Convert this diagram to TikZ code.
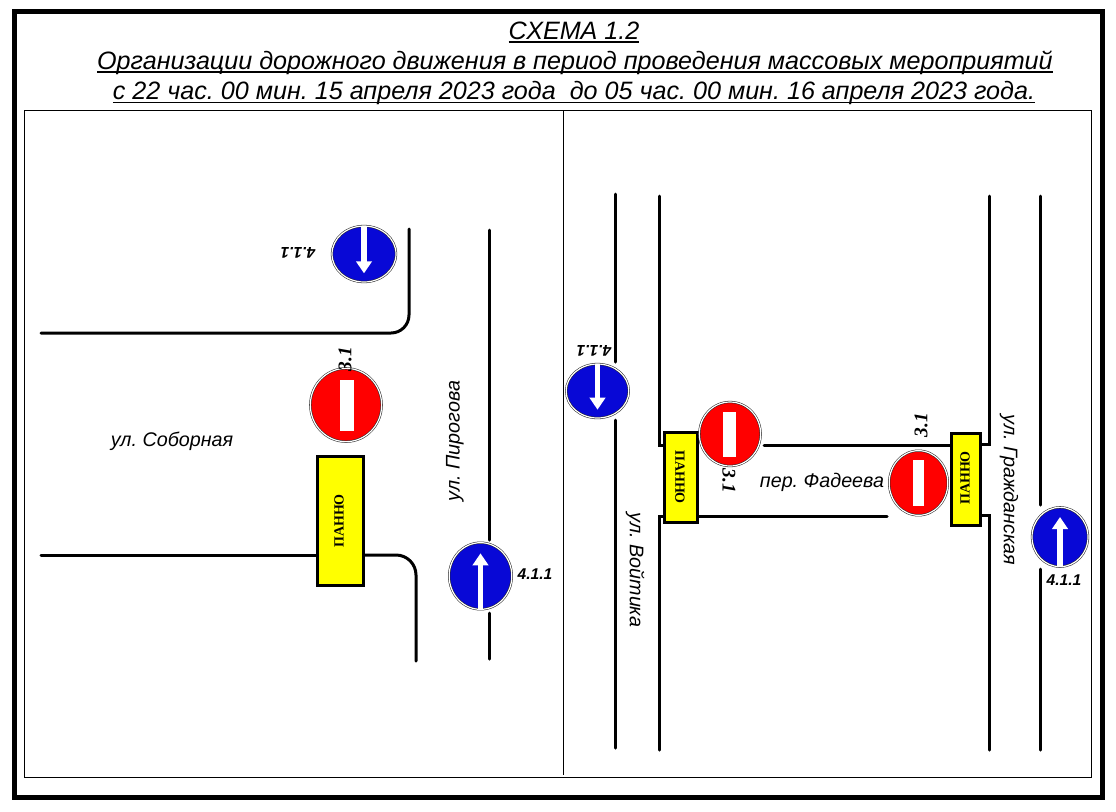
\documentclass[tikz,border=0pt]{standalone}
\usepackage{fontspec}
\setmainfont{Liberation Sans}
\newfontfamily\serifcyr{Liberation Serif}
\usetikzlibrary{shapes.geometric, arrows.meta}
\definecolor{signblue}{RGB}{8,8,214}
\definecolor{signred}{RGB}{255,0,0}
\definecolor{pannoyellow}{RGB}{255,255,0}
\newcommand{\titleline}[1]{\setbox0\hbox{#1}\rlap{\rule[-2.9pt]{\wd0}{1.1pt}}\box0}
\tikzset{
    roadline/.style={draw=black, line width=2.25pt, line cap=round},
    framethin/.style={draw=black, line width=0.75pt},
    signbase/.style={ellipse, draw=black!85, line width=0.4pt, double=white, double distance=0.9pt, inner sep=0pt},
    bluesign/.style={signbase, fill=signblue},
    redsign/.style={signbase, fill=signred},
    signbar/.style={rectangle, fill=white, inner sep=0pt},
    signarrow/.style={-{Triangle[length=9pt, width=11.5pt]}, draw=white, line width=4pt},
    pannobox/.style={rectangle, draw=black, fill=pannoyellow, line width=2.25pt, inner sep=0pt},
    pannotext/.style={font=\serifcyr\bfseries\fontsize{10.5}{12}\selectfont, inner sep=0pt},
    titletext/.style={font=\itshape\fontsize{18.85}{20}\selectfont, inner sep=0pt, anchor=base},
    streetname/.style={font=\itshape\fontsize{14.8}{16}\selectfont, inner sep=0pt},
    signcode/.style={font=\bfseries\itshape\fontsize{11.7}{13}\selectfont, inner sep=0pt},
    redcode/.style={font=\serifcyr\bfseries\itshape\fontsize{14.5}{17}\selectfont, inner sep=0pt}
}

\begin{document}
\frenchspacing
\begin{tikzpicture}[x=0.75pt, y=-0.75pt]

\useasboundingbox (0,0) rectangle (1116,811);

\draw[draw=black, line width=3.75pt] (14,11) rectangle (1102,797);
\draw[framethin] (24,110) rectangle (1091,777);
\draw[framethin] (563,110) -- (563,775);

\node[titletext] (titleA) at (574,39) {\titleline{СХЕМА 1.2}};
\node[titletext] (titleB) at (575,69) {\titleline{Организации дорожного движения в период проведения массовых мероприятий}};
\node[titletext] (titleC) at (574,99.5) {\titleline{с 22 час. 00 мин. 15 апреля 2023 года\ \ до 05 час. 00 мин. 16 апреля 2023 года.}};

% left crossing
\draw[roadline, rounded corners=13.5pt] (409,229) -- (409,333) -- (41,333);
\draw[roadline] (41,555) -- (317,555);
\draw[roadline, rounded corners=15pt] (363,555) -- (416,555) -- (416,661);
\draw[roadline] (489,230) -- (489,540);
\draw[roadline] (489,613) -- (489,659);

\node[bluesign, minimum width=48pt, minimum height=42pt] (blueA) at (364,254) {};
\draw[signarrow] (blueA.north) -- ([yshift=-14.5pt]blueA.center);
\node[signcode, rotate=180] (codeA) at (298,253) {4.1.1};

\node[redsign, minimum width=53.5pt, minimum height=55pt] (redA) at (346,405) {};
\node[signbar, minimum width=10.5pt, minimum height=38pt] (barA) at (347,405.5) {};
\node[redcode, rotate=90] (codeB) at (345,359) {3.1};

\node[pannobox, minimum width=34.5pt, minimum height=96.75pt] (pannoA) at (340,520.5) {};
\node[pannotext, rotate=90] (pannoAtext) at (339,521) {ПАННО};

\node[streetname] (soborname) at (172,441) {ул. Соборная};
\node[streetname, rotate=90] (pirogname) at (455,441) {ул. Пирогова};

\node[bluesign, minimum width=47pt, minimum height=50pt] (blueB) at (480.5,576) {};
\draw[signarrow] (blueB.south) -- ([yshift=17pt]blueB.center);
\node[signcode] (codeC) at (535,574) {4.1.1};

% right crossing
\draw[roadline] (615,194) -- (615,362);
\draw[roadline] (615,420) -- (615,748);
\draw[roadline] (659,196) -- (659,445) -- (665,445);
\draw[roadline] (665,516) -- (659,516) -- (659,750);
\draw[roadline] (764,445) -- (951,445);
\draw[roadline] (697,516) -- (887,516);
\draw[roadline] (989,196) -- (989,444) -- (980,444);
\draw[roadline] (980,515) -- (989,515) -- (989,750);
\draw[roadline] (1040,196) -- (1040,505);
\draw[roadline] (1040,569) -- (1040,750);

\node[bluesign, minimum width=47pt, minimum height=40.5pt] (blueC) at (597.5,391) {};
\draw[signarrow] (blueC.north) -- ([yshift=-14pt]blueC.center);
\node[signcode, rotate=180] (codeD) at (594,351) {4.1.1};

\node[pannobox, minimum width=24.75pt, minimum height=67.5pt] (pannoB) at (680.5,477) {};
\node[pannotext, rotate=-90] (pannoBtext) at (680,477) {ПАННО};

\node[redsign, minimum width=46pt, minimum height=48pt] (redB) at (730,434) {};
\node[signbar, minimum width=9.75pt, minimum height=33.75pt] (barB) at (729.5,434.5) {};
\node[redcode, rotate=-90] (codeE) at (729,481) {3.1};

\node[streetname] (fadname) at (822,482) {пер. Фадеева};

\node[redsign, minimum width=44pt, minimum height=48.5pt] (redC) at (918.5,483) {};
\node[signbar, minimum width=8.25pt, minimum height=34.5pt] (barC) at (918.5,483) {};
\node[redcode, rotate=90] (codeF) at (921,425) {3.1};

\node[pannobox, minimum width=21.75pt, minimum height=69pt] (pannoC) at (965.5,479) {};
\node[pannotext, rotate=90] (pannoCtext) at (965,478) {ПАННО};

\node[bluesign, minimum width=42pt, minimum height=44.5pt] (blueD) at (1060,537) {};
\draw[signarrow] (blueD.south) -- ([yshift=15pt]blueD.center);
\node[signcode] (codeG) at (1064,580) {4.1.1};

\node[streetname, rotate=-90] (voitname) at (635,570) {ул. Войтика};
\node[streetname, rotate=-90] (grazhname) at (1009,490) {ул. Гражданская};

\end{tikzpicture}
\end{document}
